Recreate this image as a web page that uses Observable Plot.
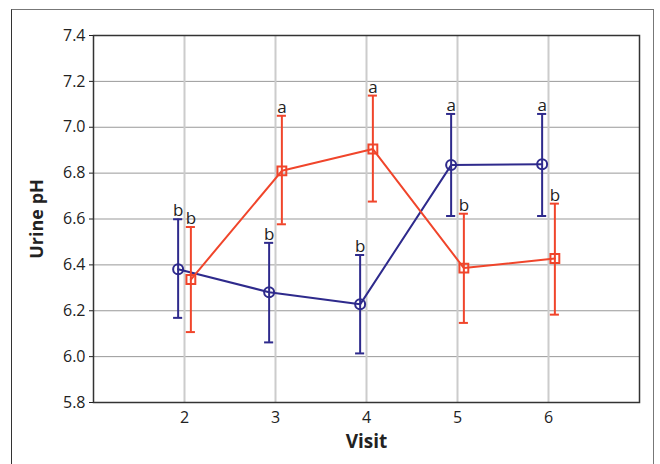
<!DOCTYPE html>
<html><head><meta charset="utf-8">
<script src="https://cdn.jsdelivr.net/npm/d3@7"></script>
<script src="https://cdn.jsdelivr.net/npm/@observablehq/plot@0.6"></script>
<style>
body{margin:0;background:#fff;}
#wrap{position:relative;width:660px;height:464px;overflow:hidden;}
#border{position:absolute;left:11px;top:9px;width:641px;height:480px;border-left:1.5px solid #333;border-top:1.5px solid #777;border-right:1.5px solid #777;pointer-events:none;}
svg text{font-family:"Open Sans",sans-serif}
</style></head><body><div id="wrap"><div id="border"></div></div>
<script>
const visits = [2, 3, 4, 5, 6];
const yTicks = [5.8, 6.0, 6.2, 6.4, 6.6, 6.8, 7.0, 7.2, 7.4];
// Series A (blue, circles)
const meanA = [6.381, 6.281, 6.228, 6.835, 6.839];
const lowA  = [6.169, 6.062, 6.014, 6.613, 6.613];
const highA = [6.599, 6.496, 6.443, 7.058, 7.058];
const letterA = ["b", "b", "b", "a", "a"];
// Series B (red, squares)
const meanB = [6.336, 6.810, 6.905, 6.386, 6.428];
const lowB  = [6.107, 6.577, 6.676, 6.147, 6.183];
const highB = [6.565, 7.050, 7.138, 6.623, 6.667];
const letterB = ["b", "a", "a", "b", "b"];

const blue = "#2e2a8c", red = "#f0452b";
const off = 0.07, cap = 0.05;
const mk = (means, lows, highs, letters, o) => visits.map((v, i) => ({x: v + o, mean: means[i], lo: lows[i], hi: highs[i], letter: letters[i]}));
const A = mk(meanA, lowA, highA, letterA, -off);
const B = mk(meanB, lowB, highB, letterB, off);

function series(data, color, symbol) {
  return [
    Plot.line(data, {x: "x", y: "mean", stroke: color, strokeWidth: 2}),
    Plot.ruleX(data, {x: "x", y1: "lo", y2: "hi", stroke: color, strokeWidth: 2}),
    Plot.ruleY(data, {y: "hi", x1: d => d.x - cap, x2: d => d.x + cap, stroke: color, strokeWidth: 2}),
    Plot.ruleY(data, {y: "lo", x1: d => d.x - cap, x2: d => d.x + cap, stroke: color, strokeWidth: 2}),
    Plot.dot(data, {x: "x", y: "mean", r: 5, symbol, stroke: color, strokeWidth: 2, fill: "none"}),
    Plot.text(data, {x: "x", y: "hi", text: "letter", lineAnchor: "bottom", dy: -3, fontSize: 17, fill: "#222"})
  ];
}

const chart = Plot.plot({
  width: 660, height: 464,
  marginLeft: 93, marginRight: 21, marginTop: 35, marginBottom: 62,
  x: {domain: [1, 7]},
  y: {domain: [5.8, 7.4]},
  style: {fontSize: "16px", fontFamily: "Open Sans, sans-serif", background: "transparent"},
  marks: [
    Plot.gridY(yTicks, {stroke: "#999", strokeOpacity: 1, strokeWidth: 1}),
    Plot.gridX(visits, {stroke: "#ccc", strokeOpacity: 1, strokeWidth: 2}),
    Plot.frame({stroke: "#333", strokeWidth: 1.5}),
    Plot.axisY(yTicks, {tickSize: 4, tickPadding: 4, tickFormat: d => d.toFixed(1), label: null, fontSize: 16, color: "#222"}),
    Plot.axisX(visits, {tickSize: 0, tickPadding: 9, label: null, fontSize: 16, color: "#222"}),
    Plot.text(["Urine pH"], {text: d => d, frameAnchor: "left", textAnchor: "middle", dx: -56, rotate: -90, fontSize: 18, fontWeight: "bold", fill: "#222"}),
    Plot.text(["Visit"], {text: d => d, frameAnchor: "bottom", dy: 45, fontSize: 19, fontWeight: "bold", fill: "#222"}),
    ...series(A, blue, "circle"),
    ...series(B, red, "square")
  ]
});
document.getElementById("wrap").prepend(chart);
</script></body></html>
